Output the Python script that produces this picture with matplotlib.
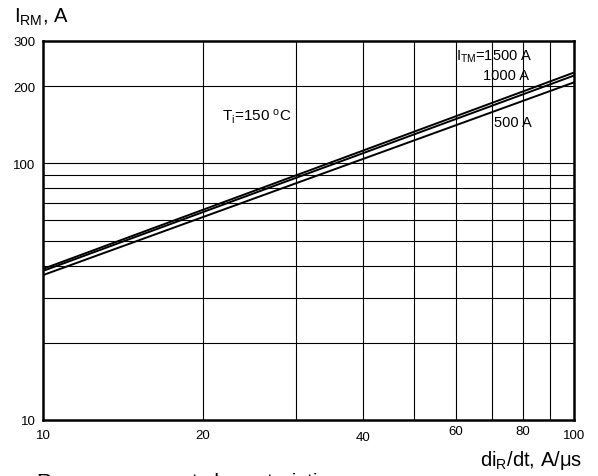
import matplotlib as mpl
mpl.use('Agg')
import matplotlib.pyplot as plt
from matplotlib.ticker import FixedLocator

plt.rcParams['font.family'] = ['Liberation Sans', 'DejaVu Sans']
plt.rcParams['mathtext.fontset'] = 'custom'
plt.rcParams['mathtext.rm'] = 'Liberation Sans'
plt.rcParams['mathtext.it'] = 'Liberation Sans'

# diR/dt, A/us  vs  IRM, A  (at the ends)
di_dt = [10, 100]
irm_1500 = [38.8, 226]
irm_1000 = [38.1, 220]
irm_500 = [36.7, 207]

x_ticks = [10, 20, 40, 60, 80, 100]
y_ticks = [10, 100, 200, 300]
x_grid = [20, 30, 40, 50, 60, 70, 80, 90]
y_grid = [20, 30, 40, 50, 60, 70, 80, 90, 100, 200]

W, H = 598, 477
fig = plt.figure(figsize=(W/100, H/100), dpi=100)
ax = fig.add_axes([43/W, 1-421/H, (574-43)/W, (421-42)/H])

for y in (irm_1500, irm_1000, irm_500):
    ax.plot(di_dt, y, color='black', lw=1.4)

ax.set_xscale('log')
ax.set_yscale('log')
ax.set_xlim(10, 100)
ax.set_ylim(10, 300)

for xv in x_grid:
    ax.axvline(xv, color='black', lw=0.8)
for yv in y_grid:
    ax.axhline(yv, color='black', lw=0.8)

for s in ax.spines.values():
    s.set_linewidth(1.8)

ax.xaxis.set_major_locator(FixedLocator([]))
ax.xaxis.set_minor_locator(FixedLocator([]))
ax.yaxis.set_major_locator(FixedLocator(y_ticks))
ax.yaxis.set_minor_locator(FixedLocator([]))
ax.set_yticklabels([str(v) for v in y_ticks])
ax.tick_params(axis='y', length=0, labelsize=9.5, pad=5.5)

# x tick labels sit at slightly different heights in the original
x_off = [15, 15, 17, 11, 11, 15]
for xv, off in zip(x_ticks, x_off):
    ax.annotate(str(xv), (xv, 0), xycoords=('data', 'axes fraction'),
                xytext=(0, -off), textcoords='offset pixels',
                ha='center', va='center', fontsize=9.5)

def px_text(x, y, s, size, ha='left'):
    fig.text(x/W, 1-y/H, s, fontsize=size, ha=ha, va='baseline')

px_text(14, 23, r'I$_{\mathrm{RM}}$, A', 14.5)
px_text(582, 466, r'di$_{\mathrm{R}}$/dt, A/$\mathrm{\mu}$s', 14.5, ha='right')
# caption is cut off by the bottom edge in the original
px_text(37, 488, 'Recovery current characteristics', 15.2)

px_text(222, 121, r'T$_{\mathrm{i}}$=150 $^{\mathrm{o}}$C', 11)
px_text(456, 61, r'I$_{\mathrm{TM}}$=1500 A', 10.5)
px_text(483, 80, '1000 A', 10.5)
px_text(494, 127, '500 A', 10.5)

fig.savefig('out.png', dpi=100)
